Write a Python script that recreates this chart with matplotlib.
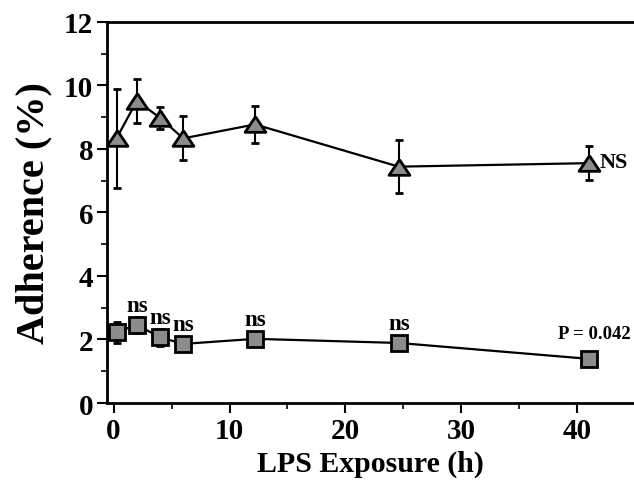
import matplotlib
matplotlib.use("Agg")
import matplotlib.pyplot as plt
from matplotlib.ticker import MultipleLocator

# Data
hours = [0.25, 2.0, 4.0, 6.0, 12.2, 24.6, 41.0]
tri_vals = [8.33, 9.51, 8.98, 8.33, 8.77, 7.44, 7.55]
tri_err = [1.56, 0.69, 0.35, 0.69, 0.58, 0.84, 0.53]
sq_vals = [2.23, 2.46, 2.07, 1.86, 2.02, 1.89, 1.39]
sq_err = [0.33, 0.25, 0.27, 0.10, 0.08, 0.08, 0.06]
sq_labels = ["", "ns", "ns", "ns", "ns", "ns", "P = 0.042"]
tri_label = "NS"
xticks = [0, 10, 20, 30, 40]
yticks = [0, 2, 4, 6, 8, 10, 12]

plt.rcParams['font.family'] = ['Liberation Serif', 'DejaVu Serif']
plt.rcParams['font.weight'] = 'bold'

fig = plt.figure(figsize=(6.34, 4.85), dpi=100)
ax = fig.add_axes([0.169, 0.167, 0.831, 0.786])

tri_marker = [(0, 0.75), (-1, -0.75), (1, -0.75), (0, 0.75)]
fill = '#8c8c8c'

ax.errorbar(hours, tri_vals, yerr=tri_err, color='black', lw=1.6,
            marker=tri_marker, ms=15, mfc=fill, mec='black', mew=2,
            ecolor='black', elinewidth=1.5, capsize=3, capthick=1.5, zorder=3)
ax.errorbar(hours, sq_vals, yerr=sq_err, color='black', lw=1.6,
            marker='s', ms=12, mfc=fill, mec='black', mew=2,
            ecolor='black', elinewidth=1.5, capsize=3, capthick=1.5, zorder=3)

for x, y, lab in zip(hours, sq_vals, sq_labels):
    if not lab:
        continue
    if lab.startswith('P'):
        ax.annotate(lab, (x, y), xytext=(4, 18), textcoords='offset points',
                    ha='center', va='center', fontsize=13.5, fontweight='bold')
    else:
        ax.annotate(lab, (x, y), xytext=(0, 14), textcoords='offset points',
                    ha='center', va='center', fontsize=16.5, fontweight='bold')

ax.annotate(tri_label, (hours[-1], tri_vals[-1]), xytext=(8, 1),
            textcoords='offset points', ha='left', va='center',
            fontsize=16, fontweight='bold')

ax.set_xlim(-0.56, 44.9)
ax.set_ylim(0, 12)
ax.set_xticks(xticks)
ax.set_yticks(yticks)
ax.xaxis.set_minor_locator(MultipleLocator(5))
ax.yaxis.set_minor_locator(MultipleLocator(1))
ax.tick_params(which='major', direction='out', length=7, width=1.5,
               labelsize=21, pad=3)
ax.tick_params(which='minor', direction='out', length=4, width=1.2)
for lab in ax.get_xticklabels() + ax.get_yticklabels():
    lab.set_fontweight('bold')

ax.spines['right'].set_visible(False)
for s in ['left', 'bottom', 'top']:
    ax.spines[s].set_linewidth(2)

ax.set_xlabel('LPS Exposure (h)', fontsize=21.5, fontweight='bold', labelpad=4)
ax.set_ylabel('Adherence (%)', fontsize=29, fontweight='bold', labelpad=8)

fig.savefig('out.png', dpi=100)
